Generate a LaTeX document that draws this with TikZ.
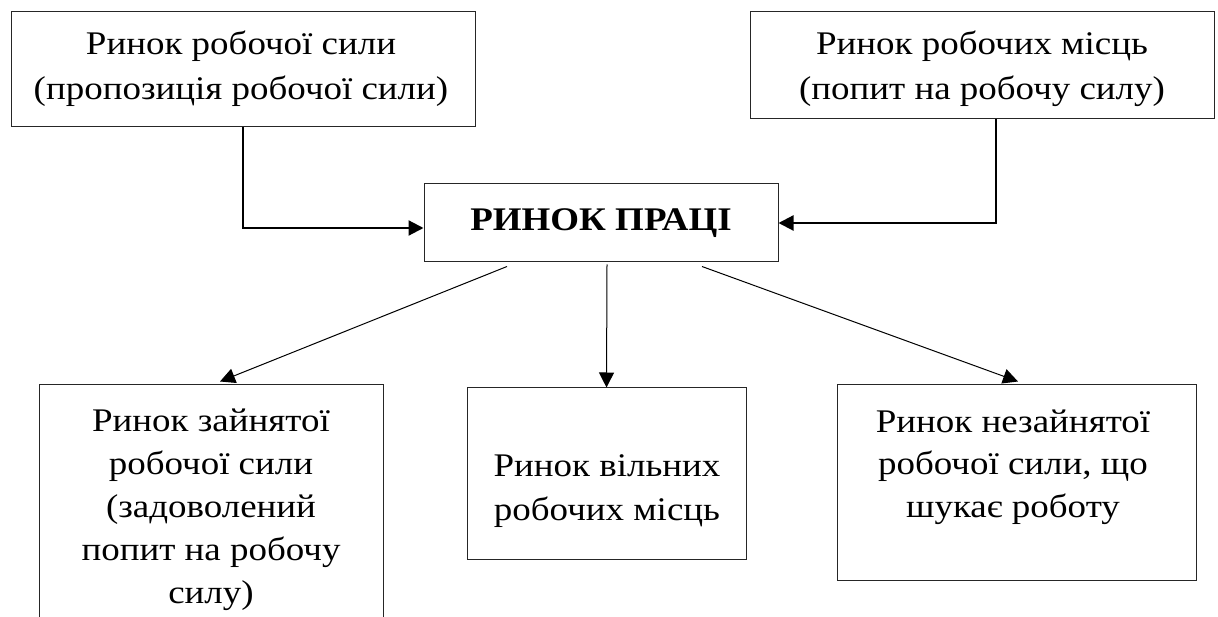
\documentclass[tikz,border=0pt]{standalone}
\usepackage{fontspec}
\setmainfont{Liberation Serif}[FakeStretch=1.12]
\usetikzlibrary{arrows.meta,calc}
\begin{document}
\begin{tikzpicture}[x=1pt,y=-1pt,
  box/.style={draw=black!85, line width=1pt, inner sep=0pt},
  txt/.style={align=center, inner sep=0pt, anchor=base},
  toptxt/.style={txt, font=\fontsize{33}{45}\selectfont},
  lowtxt/.style={txt, font=\fontsize{33}{43}\selectfont},
  arrowA/.style={line width=2.2pt, -{Triangle[length=15pt,width=15pt]}},
  arrowB/.style={line width=1pt, -{Triangle[length=15pt,width=15pt]}}]
\clip (0,0) rectangle (1218,617);
% boxes
\node[box, minimum width=464pt, minimum height=115pt] (tl) at (243,69.5) {};
\node[box, minimum width=464pt, minimum height=107pt] (tr) at (982,65.5) {};
\node[box, minimum width=354pt, minimum height=78pt] (cb) at (601,223) {};
\node[box, minimum width=344pt, minimum height=265pt] (bl) at (211,517.5) {};
\node[box, minimum width=279pt, minimum height=171pt] (mb) at (606.5,473.5) {};
\node[box, minimum width=359pt, minimum height=195pt] (br) at (1016.5,482.5) {};
% texts (base anchor = baseline of the last line)
\node[toptxt] (tlt) at (241,100) {Ринок робочої сили\\(пропозиція робочої сили)};
\node[toptxt] (trt) at (982,100) {Ринок робочих місць\\(попит на робочу силу)};
\node[toptxt, font=\fontsize{33}{45}\selectfont\bfseries] (cbt) at (601,231) {РИНОК ПРАЦІ};
\node[lowtxt] (blt) at (211,603) {Ринок зайнятої\\робочої сили\\(задоволений\\попит на робочу\\силу)};
\node[lowtxt, font=\fontsize{33}{44}\selectfont] (mbt) at (607,520) {Ринок вільних\\робочих місць};
\node[lowtxt, font=\fontsize{33}{42.5}\selectfont] (brt) at (1013,517) {Ринок незайнятої\\робочої сили, що\\шукає роботу};
% connectors
\draw[arrowA] (tl.south) |- ([yshift=-5pt]cb.west);
\draw[arrowA] ([xshift=14pt]tr.south) |- (cb.east);
\draw[arrowB] ([xshift=-94pt,yshift=-4pt]cb.south) -- ([xshift=9pt,yshift=3pt]bl.north);
\draw[arrowB] ([xshift=6pt,yshift=-2pt]cb.south) -- (mb.north);
\draw[arrowB] ([xshift=101pt,yshift=-4pt]cb.south) -- ([xshift=1.5pt,yshift=3pt]br.north);
\end{tikzpicture}
\end{document}
